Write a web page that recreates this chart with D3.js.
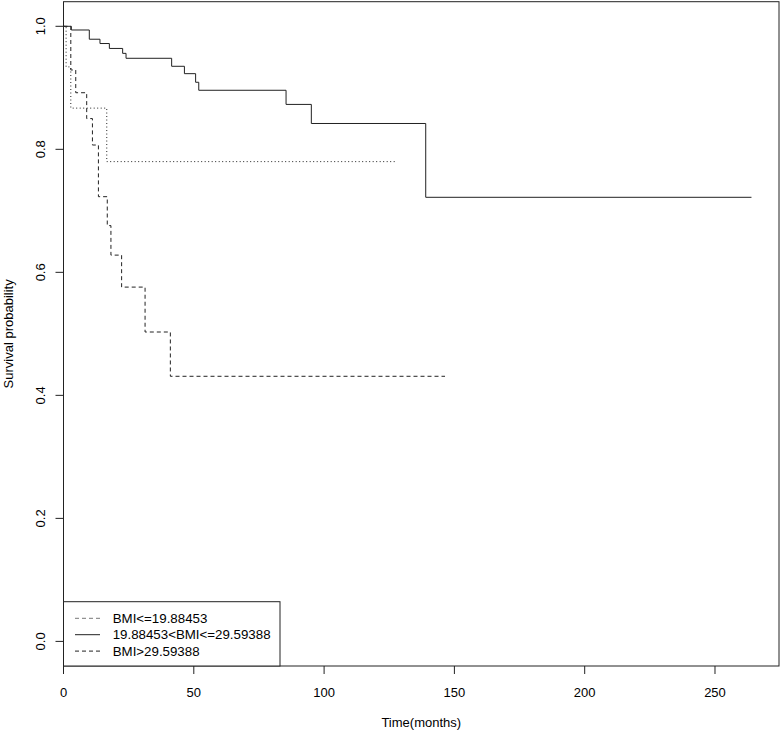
<!DOCTYPE html>
<html>
<head>
<meta charset="utf-8">
<script src="https://cdn.jsdelivr.net/npm/d3@7.9.0/dist/d3.min.js"></script>
<style>
  body { margin: 0; background: #fff; }
  svg { display: block; font-family: "Liberation Sans", Arial, sans-serif; }
</style>
</head>
<body>
<svg id="plot" width="780" height="733"></svg>
<script>
// Kaplan-Meier curves (time in months, survival)
const lowTimes  = [0, 1.0, 2.8, 16.6];
const lowSurv   = [1, 0.934, 0.867, 0.780];
const lowEnd    = 127.6;

const midTimes  = [0, 3.0, 9.9, 14.0, 17.6, 22.7, 24.0, 41.5, 46.4, 50.7, 51.9, 85.4, 95.1, 139.0];
const midSurv   = [1, 0.994, 0.979, 0.972, 0.964, 0.956, 0.948, 0.935, 0.923, 0.909, 0.896, 0.873, 0.842, 0.722];
const midEnd    = 264;

const highTimes = [0, 2.8, 4.7, 8.9, 11.1, 13.4, 16.8, 18.2, 22.3, 31.3, 41.0];
const highSurv  = [1, 0.929, 0.892, 0.850, 0.807, 0.723, 0.676, 0.628, 0.576, 0.503, 0.431];
const highEnd   = 146.4;

const xTicks = [0, 50, 100, 150, 200, 250];
const yTicks = [0, 0.2, 0.4, 0.6, 0.8, 1.0];
const legendLabels = ['BMI<=19.88453', '19.88453<BMI<=29.59388', 'BMI>29.59388'];

const svg = d3.select('#plot');
const pLeft = 63.5, pRight = 779, pTop = 1.7, pBottom = 666;

// survival style x axis: starts at 0, 4% padding on the right
let x = d3.scaleLinear().domain([0, midEnd * 1.04]).range([pLeft, pRight]);
let y = d3.scaleLinear().domain([-0.04, 1.04]).range([pBottom, pTop]);

const ink = '#222';

function steps(times, surv, end) {
  let pts = times.map((t, i) => [t, surv[i]]);
  pts.push([end, surv[surv.length - 1]]);
  return pts;
}

let line = d3.line()
  .x(d => x(d[0]))
  .y(d => y(d[1]))
  .curve(d3.curveStepAfter);

const curves = [
  { pts: steps(lowTimes, lowSurv, lowEnd), dash: '1,2.5' },
  { pts: steps(midTimes, midSurv, midEnd), dash: null },
  { pts: steps(highTimes, highSurv, highEnd), dash: '4,3' },
];

curves.forEach(c => {
  svg.append('path')
    .attr('d', line(c.pts))
    .attr('fill', 'none')
    .attr('stroke', ink)
    .attr('stroke-width', 1)
    .attr('stroke-dasharray', c.dash);
});

// frame
svg.append('rect')
  .attr('x', pLeft).attr('y', pTop)
  .attr('width', pRight - pLeft).attr('height', pBottom - pTop)
  .attr('fill', 'none').attr('stroke', ink).attr('stroke-width', 1);

// x axis
let xAxis = svg.append('g');
xTicks.forEach(t => {
  xAxis.append('line')
    .attr('x1', x(t)).attr('x2', x(t))
    .attr('y1', pBottom).attr('y2', pBottom + 8)
    .attr('stroke', ink);
  xAxis.append('text')
    .attr('x', x(t)).attr('y', 697)
    .attr('text-anchor', 'middle')
    .attr('font-size', 13)
    .attr('fill', '#000')
    .text(t);
});

// y axis
let yAxis = svg.append('g');
yTicks.forEach(v => {
  yAxis.append('line')
    .attr('x1', pLeft - 8).attr('x2', pLeft)
    .attr('y1', y(v)).attr('y2', y(v))
    .attr('stroke', ink);
  yAxis.append('text')
    .attr('transform', `translate(45,${y(v)}) rotate(-90)`)
    .attr('text-anchor', 'middle')
    .attr('font-size', 13)
    .attr('fill', '#000')
    .text(v.toFixed(1));
});

svg.append('text')
  .attr('x', (pLeft + pRight) / 2).attr('y', 727)
  .attr('text-anchor', 'middle')
  .attr('font-size', 13)
  .text('Time(months)');

svg.append('text')
  .attr('transform', `translate(13,${(pTop + pBottom) / 2}) rotate(-90)`)
  .attr('text-anchor', 'middle')
  .attr('font-size', 13)
  .text('Survival probability');

// legend, bottom left
let legend = svg.append('g');
legend.append('rect')
  .attr('x', pLeft).attr('y', 601.7)
  .attr('width', 280 - pLeft).attr('height', pBottom - 601.7)
  .attr('fill', '#fff').attr('stroke', ink);

const legendDash = ['4,3', null, '4,3'];
const legendInk = ['#777', ink, ink];
legendLabels.forEach((lab, i) => {
  let ly = 618.3 + i * 16.4;
  legend.append('line')
    .attr('x1', 75).attr('x2', 100)
    .attr('y1', ly).attr('y2', ly)
    .attr('stroke', legendInk[i])
    .attr('stroke-dasharray', legendDash[i]);
  legend.append('text')
    .attr('x', 112.7).attr('y', ly + 4.7)
    .attr('font-size', 13.3)
    .text(lab);
});
</script>
</body>
</html>
